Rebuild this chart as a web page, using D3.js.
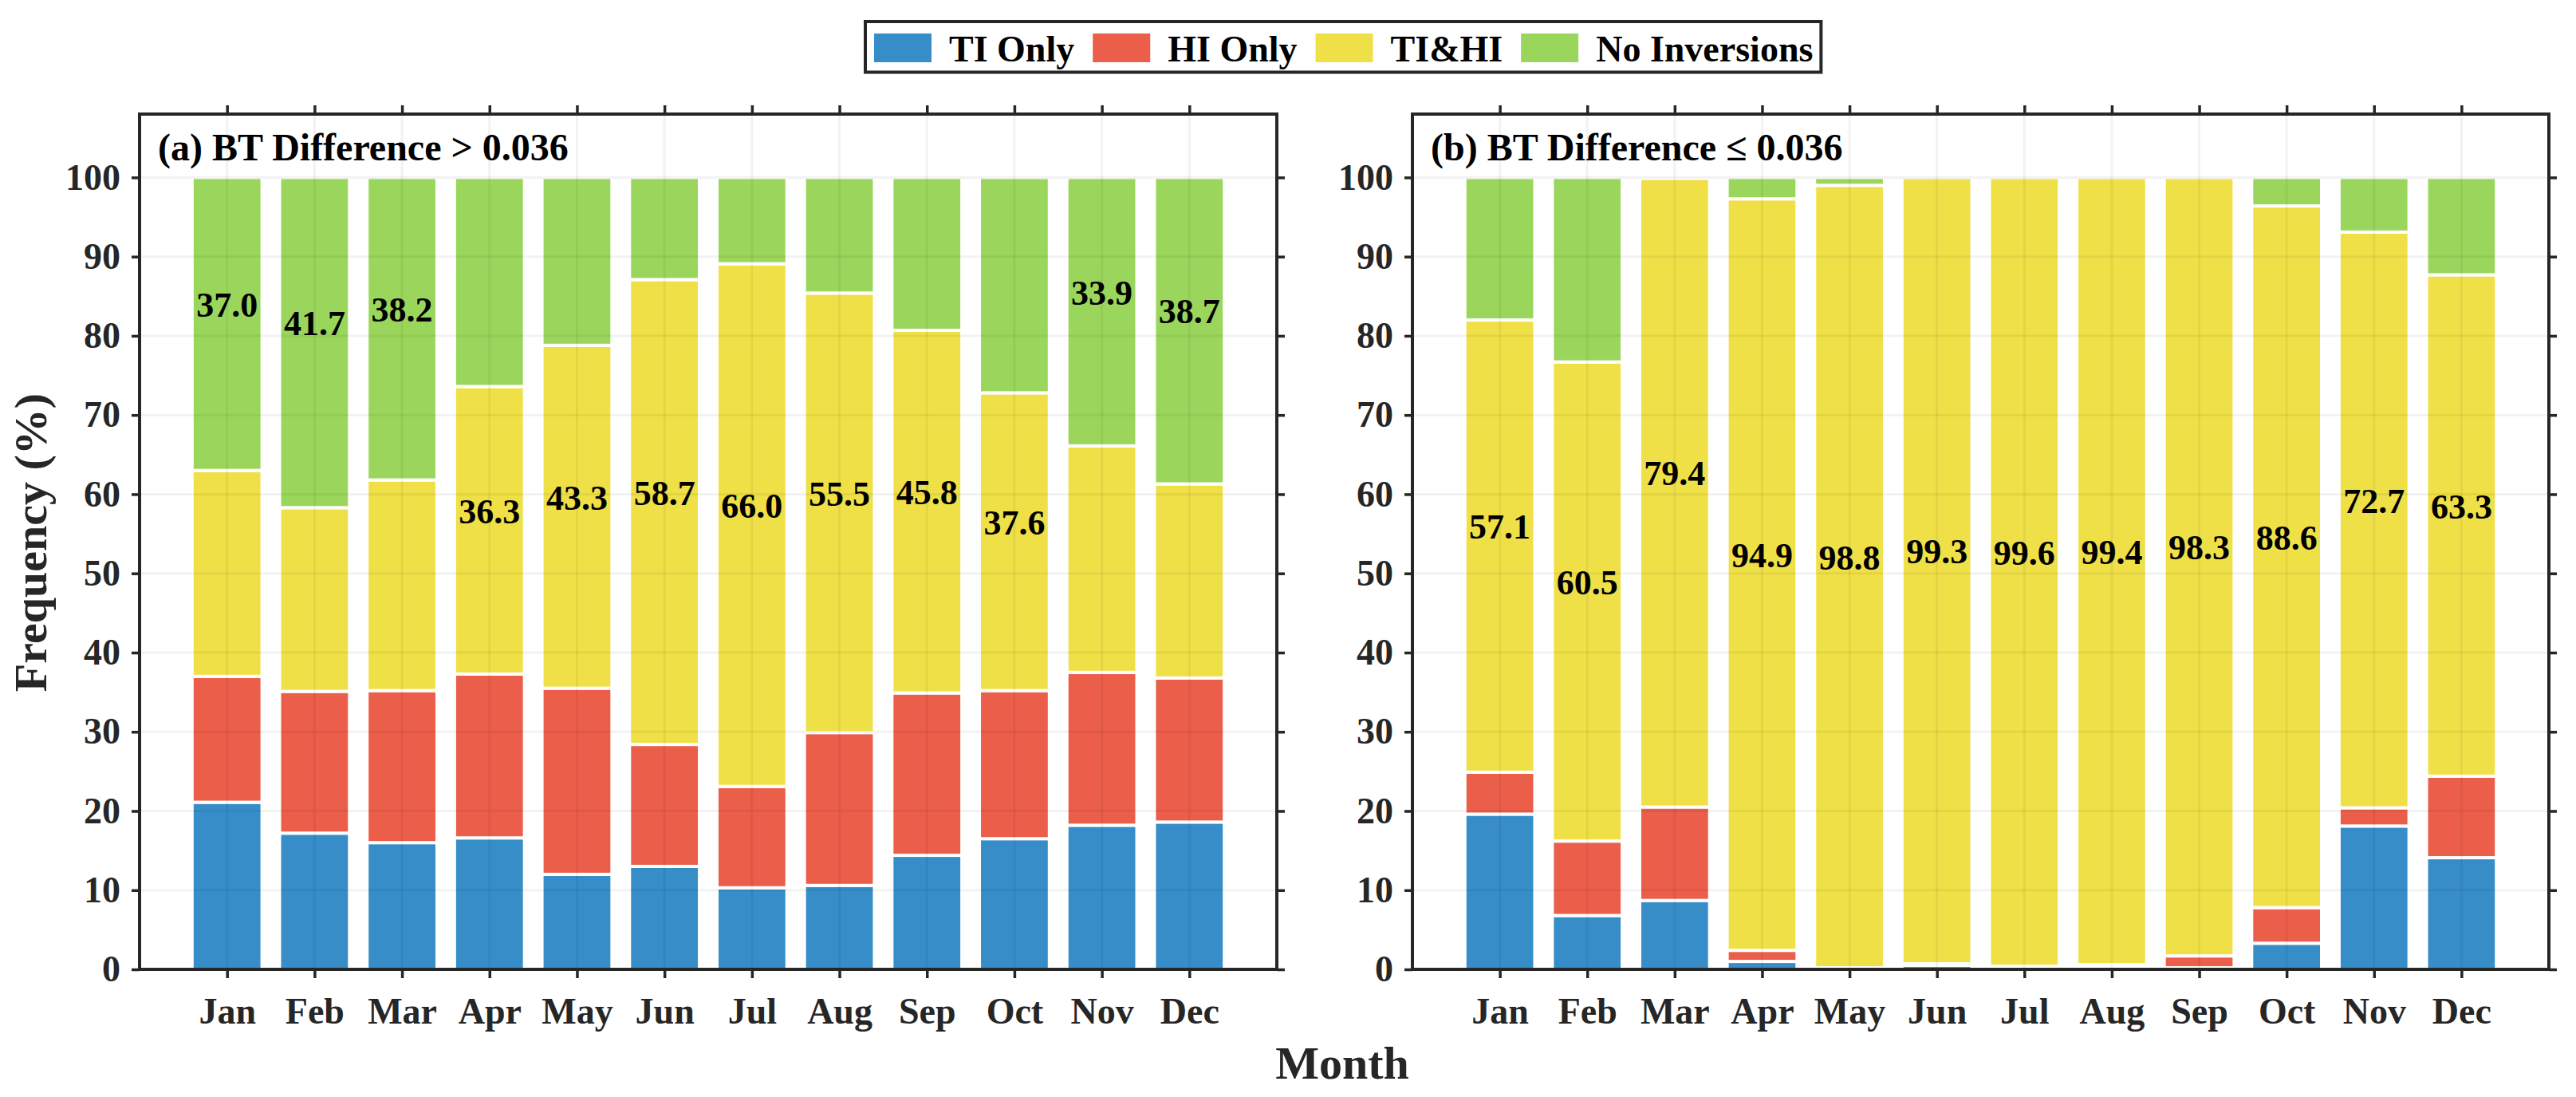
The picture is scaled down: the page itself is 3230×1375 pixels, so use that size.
<!DOCTYPE html>
<html>
<head>
<meta charset="utf-8">
<script src="https://cdn.jsdelivr.net/npm/d3@7"></script>
<style>
  body { margin: 0; background: #ffffff; }
  svg { display: block; }
  text { font-family: "Liberation Serif", "Times New Roman", serif; font-weight: bold; }
</style>
</head>
<body>
<svg id="chart" width="3230" height="1375"></svg>
<script>
// ---------------- data ----------------
const months = ["Jan","Feb","Mar","Apr","May","Jun","Jul","Aug","Sep","Oct","Nov","Dec"];
const seriesNames = ["TI Only","HI Only","TI&HI","No Inversions"];
const seriesColors = ["#368DC8","#EA5E4A","#F0E048","#9BD65C"];
const yTickValues = [0,10,20,30,40,50,60,70,80,90,100];
const panelTitles = ["(a) BT Difference > 0.036","(b) BT Difference \u2264 0.036"];
const yAxisLabel = "Frequency (%)";
const xAxisLabel = "Month";

// panel (a): BT Difference > 0.036
const tiOnlyA = [21.1,17.2,16.0,16.6,12.0,13.0,10.3,10.6,14.4,16.5,18.2,18.6];
const hiOnlyA = [15.9,17.9,19.2,20.7,23.5,15.4,12.8,19.3,20.5,18.7,19.3,18.2];
const tiHiA   = [26.0,23.2,26.6,36.3,43.3,58.7,66.0,55.5,45.8,37.6,28.6,24.5];
const noInvA  = [37.0,41.7,38.2,26.4,21.2,12.9,10.9,14.6,19.3,27.2,33.9,38.7];

// panel (b): BT Difference <= 0.036
const tiOnlyB = [19.6,6.8,8.7,1.0,0.1,0.5,0.2,0.4,0.2,3.3,18.1,14.1];
const hiOnlyB = [5.3,9.4,11.8,1.4,0.1,0.2,0.2,0.2,1.5,4.5,2.3,10.3];
const tiHiB   = [57.1,60.5,79.4,94.9,98.8,99.3,99.6,99.4,98.3,88.6,72.7,63.3];
const noInvB  = [18.0,23.3,0.1,2.7,1.0,0.0,0.0,0.0,0.0,3.6,6.9,12.3];

// ---------------- layout ----------------
const svg = d3.select("#chart");
const plotTop = 143, plotBottom = 1215;
const ink = "#262626";
const panels = [
  { x0: 175,  x1: 1601, series: [tiOnlyA, hiOnlyA, tiHiA, noInvA], title: panelTitles[0] },
  { x0: 1771, x1: 3196, series: [tiOnlyB, hiOnlyB, tiHiB, noInvB], title: panelTitles[1] }
];
const y = d3.scaleLinear().domain([0, 108]).range([plotBottom, plotTop]);

function styleAxis(g, fontSize) {
  g.select(".domain").remove();
  g.selectAll(".tick line").attr("stroke", ink).attr("stroke-width", 3.5);
  g.selectAll(".tick text").attr("font-size", fontSize).attr("fill", ink);
}

panels.forEach((p, pi) => {
  const x = d3.scaleLinear().domain([0, 13]).range([p.x0, p.x1]);
  const rows = months.map((m, i) => {
    const r = { month: m, idx: i + 1 };
    seriesNames.forEach((s, si) => { r[s] = p.series[si][i]; });
    return r;
  });
  const stacked = d3.stack().keys(seriesNames)(rows);
  const g = svg.append("g");
  const bw = x(0.8) - x(0);

  // bars
  stacked.forEach((layer, si) => {
    g.append("g").selectAll("rect").data(layer).join("rect")
      .attr("x", d => x(d.data.idx) - bw / 2)
      .attr("width", bw)
      .attr("y", d => y(d[1]))
      .attr("height", d => Math.max(0, y(d[0]) - y(d[1])))
      .attr("fill", seriesColors[si])
      .attr("stroke", "#ffffff")
      .attr("stroke-width", 4);
  });

  // faint grid (drawn over bars, very transparent)
  const grid = g.append("g").attr("stroke", "#000").attr("stroke-opacity", 0.05).attr("stroke-width", 3);
  grid.selectAll("line.h").data(yTickValues).join("line").attr("class", "h")
    .attr("x1", p.x0).attr("x2", p.x1).attr("y1", d => y(d)).attr("y2", d => y(d));
  grid.selectAll("line.v").data(d3.range(1, 13)).join("line").attr("class", "v")
    .attr("y1", plotTop).attr("y2", plotBottom).attr("x1", d => x(d)).attr("x2", d => x(d));

  // axes
  const left = g.append("g").attr("transform", `translate(${p.x0},0)`)
    .call(d3.axisLeft(y).tickValues(yTickValues).tickSize(10).tickPadding(14));
  styleAxis(left, 46);
  const right = g.append("g").attr("transform", `translate(${p.x1},0)`)
    .call(d3.axisRight(y).tickValues(yTickValues).tickSize(10).tickFormat(""));
  styleAxis(right, 46);
  const bottom = g.append("g").attr("transform", `translate(0,${plotBottom})`)
    .call(d3.axisBottom(x).tickValues(d3.range(1, 13)).tickSize(11).tickFormat(i => months[i - 1]));
  styleAxis(bottom, 46);
  bottom.selectAll(".tick text").attr("y", 68).attr("dy", 0);
  const topAx = g.append("g").attr("transform", `translate(0,${plotTop})`)
    .call(d3.axisTop(x).tickValues(d3.range(1, 13)).tickSize(11).tickFormat(""));
  styleAxis(topAx, 46);

  // frame
  g.append("rect").attr("x", p.x0).attr("y", plotTop)
    .attr("width", p.x1 - p.x0).attr("height", plotBottom - plotTop)
    .attr("fill", "none").attr("stroke", ink).attr("stroke-width", 4);

  // value labels on the larger of TI&HI / No Inversions
  const labels = rows.map((r, i) => {
    const si = p.series[2][i] >= p.series[3][i] ? 2 : 3;
    const seg = stacked[si][i];
    return { idx: r.idx, v: p.series[si][i], mid: (seg[0] + seg[1]) / 2 };
  });
  g.append("g").selectAll("text").data(labels).join("text")
    .attr("x", d => x(d.idx)).attr("y", d => y(d.mid) - 9)
    .attr("text-anchor", "middle").attr("font-size", 44).attr("fill", "#000")
    .text(d => d.v.toFixed(1));

  // panel title
  g.append("text").attr("x", p.x0 + 23).attr("y", 201)
    .attr("font-size", 48).attr("fill", "#000").text(p.title);
});

// axis labels
svg.append("text").attr("transform", "translate(58,680) rotate(-90)")
  .attr("text-anchor", "middle").attr("font-size", 58).attr("fill", ink).text(yAxisLabel);
svg.append("text").attr("x", 1683).attr("y", 1352)
  .attr("text-anchor", "middle").attr("font-size", 58).attr("fill", ink).text(xAxisLabel);

// legend
const leg = svg.append("g");
const legBox = leg.append("rect");
let cx = 1096;
seriesNames.forEach((s, si) => {
  leg.append("rect").attr("x", cx).attr("y", 42).attr("width", 72).attr("height", 36)
    .attr("fill", seriesColors[si]);
  const t = leg.append("text").attr("x", cx + 94).attr("y", 77)
    .attr("font-size", 46).attr("fill", "#000").text(s);
  cx = cx + 94 + t.node().getComputedTextLength() + 23;
});
const legRight = cx - 23 + 10;
legBox.attr("x", 1085).attr("y", 27).attr("width", legRight - 1085).attr("height", 63.5)
  .attr("fill", "#fff").attr("stroke", ink).attr("stroke-width", 4);
</script>
</body>
</html>
